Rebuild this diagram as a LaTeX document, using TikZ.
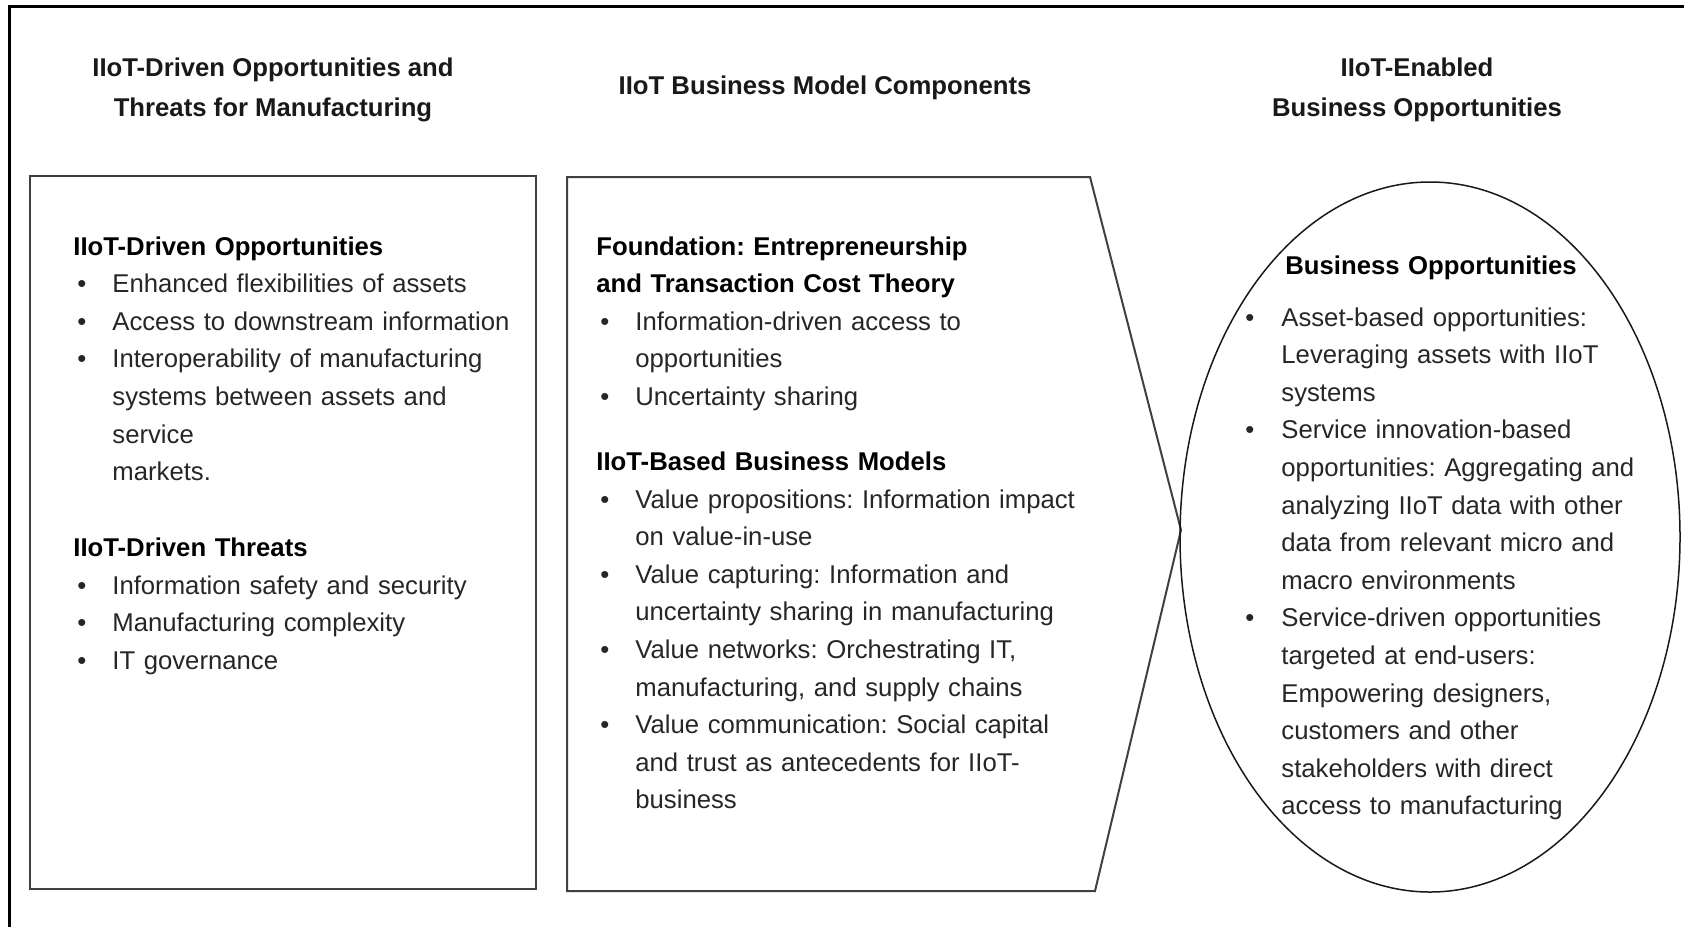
\documentclass[tikz,border=0pt]{standalone}
\usepackage{fontspec}
\setmainfont{Liberation Sans}
\usetikzlibrary{positioning}
\frenchspacing
\newlength\bulpre
\newlength\bulhang
\newcommand{\bpoint}[1]{\par\hangindent=\bulhang\hangafter=1\noindent\makebox[\bulhang][l]{\hspace*{\bulpre}\textbullet}#1\par}
\newcommand{\bodysize}{\fontsize{12.85}{18.8}\selectfont}
\tikzset{
  colhead/.style={font=\bodysize\bfseries, align=center, inner sep=0pt, text=black!90},
  coltext/.style={anchor=base west, inner sep=0pt, align=left, font=\bodysize, text=black!85},
  boxline/.style={draw=black!75, line width=1pt},
}
\begin{document}
\begin{tikzpicture}[x=0.5pt,y=-0.5pt]
\useasboundingbox (0,0) rectangle (1684,926);
\clip (0,0) rectangle (1684,926);
% outer frame
\draw[line width=1.5pt] (9.5,6.5) rectangle (1720,960);
% column headings
\node[colhead] (headthreats) at (273,90) {IIoT-Driven Opportunities and\\[1pt]Threats for Manufacturing};
\node[colhead] (headmodel) at (825,88) {IIoT Business Model Components};
\node[colhead] (headopps) at (1417,90) {IIoT-Enabled\\[1pt]Business Opportunities};
% shapes
\draw[boxline] (30,176) rectangle (536,889);
\draw[boxline] (567,177) -- (1090,177) -- (1181,530) -- (1095,891) -- (567,891) -- cycle;
\draw[draw=black!90, line width=0.75pt] (1430,537) ellipse [x radius=250, y radius=355];
% left column
\node[coltext, text width=240pt] (threatstext) at (73,255) {\setlength\bulpre{2pt}\setlength\bulhang{19.5pt}%
\textcolor{black}{\textbf{IIoT-Driven Opportunities}}
\bpoint{Enhanced flexibilities of assets}
\bpoint{Access to downstream information}
\bpoint{Interoperability of manufacturing\newline systems between assets and\newline service\newline markets.}
\vspace{19.2pt}
\noindent\textcolor{black}{\textbf{IIoT-Driven Threats}}
\bpoint{Information safety and security}
\bpoint{Manufacturing complexity}
\bpoint{IT governance}};
% middle column
\node[coltext, text width=250pt] (modeltext) at (596,255) {\setlength\bulpre{2pt}\setlength\bulhang{19.5pt}%
\textcolor{black}{\textbf{Foundation: Entrepreneurship\\and Transaction Cost Theory}}
\bpoint{Information-driven access to\newline opportunities}
\bpoint{Uncertainty sharing}
\vspace{13.7pt}
\noindent\textcolor{black}{\textbf{IIoT-Based Business Models}}
\bpoint{Value propositions: Information impact\newline on value-in-use}
\bpoint{Value capturing: Information and\newline uncertainty sharing in manufacturing}
\bpoint{Value networks: Orchestrating IT,\newline manufacturing, and supply chains}
\bpoint{Value communication: Social capital\newline and trust as antecedents for IIoT-\newline business}};
% ellipse column
\node[coltext, text width=200pt] (oppstext) at (1245,274) {\setlength\bulpre{0pt}\setlength\bulhang{18pt}%
\hspace*{20pt}\textcolor{black}{\textbf{Business Opportunities}}\par
\vspace{7.2pt}
\bpoint{Asset-based opportunities:\newline Leveraging assets with IIoT\newline systems}
\bpoint{Service innovation-based\newline opportunities: Aggregating and\newline analyzing IIoT data with other\newline data from relevant micro and\newline macro environments}
\bpoint{Service-driven opportunities\newline targeted at end-users:\newline Empowering designers,\newline customers and other\newline stakeholders with direct\newline access to manufacturing}};
\end{tikzpicture}
\end{document}
